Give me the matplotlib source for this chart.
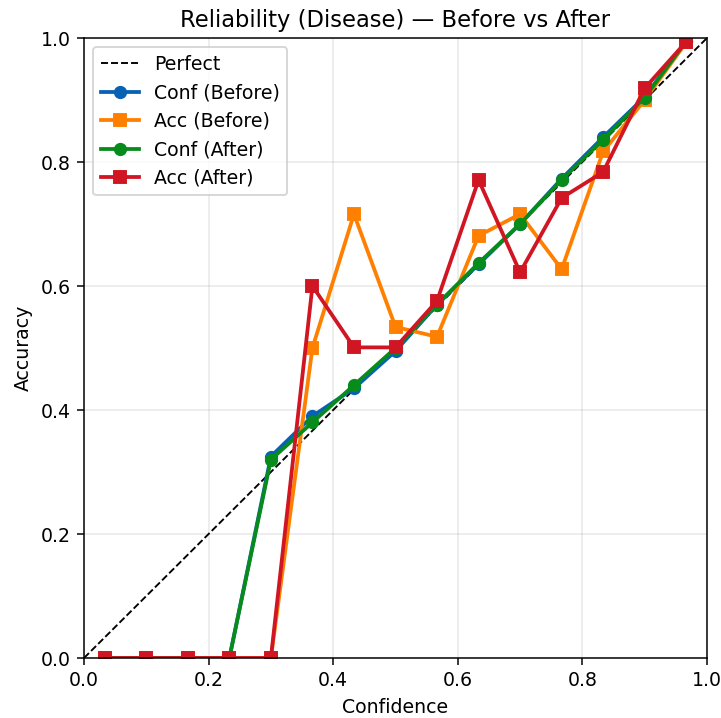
import numpy as np
from matplotlib import pyplot as plt

# 15 equal-width confidence bins, values read per bin centre
n_bins = 15
bin_centers = (np.arange(n_bins) + 0.5) / n_bins

conf_before = [0, 0, 0, 0, 0.325, 0.390, 0.435, 0.495, 0.570, 0.635, 0.700, 0.773, 0.840, 0.905, 0.995]
acc_before = [0, 0, 0, 0, 0, 0.500, 0.716, 0.534, 0.518, 0.681, 0.716, 0.627, 0.817, 0.900, 0.993]
conf_after = [0, 0, 0, 0, 0.320, 0.380, 0.440, 0.500, 0.570, 0.637, 0.700, 0.771, 0.836, 0.904, 0.995]
acc_after = [0, 0, 0, 0, 0, 0.600, 0.501, 0.501, 0.576, 0.771, 0.622, 0.742, 0.784, 0.919, 0.994]

DPI = 136
fig = plt.figure(figsize=(721 / DPI, 718 / DPI), dpi=DPI)
ax = fig.add_axes([84 / 721, 60 / 718, 623 / 721, 620 / 718])

ax.plot([0, 1], [0, 1], 'k--', lw=1, label='Perfect')
ax.plot(bin_centers, conf_before, marker='o', lw=2, color='#0762b3', label='Conf (Before)')
ax.plot(bin_centers, acc_before, marker='s', lw=2, color='#ff8000', label='Acc (Before)')
ax.plot(bin_centers, conf_after, marker='o', lw=2, color='#078c1c', label='Conf (After)')
ax.plot(bin_centers, acc_after, marker='s', lw=2, color='#d01523', label='Acc (After)')

ax.set_xlim(0, 1)
ax.set_ylim(0, 1)
ax.set_xlabel('Confidence')
ax.set_ylabel('Accuracy')
ax.set_title('Reliability (Disease) — Before vs After')
ax.grid(True, alpha=0.3)
ax.legend(loc='upper left')

fig.savefig('out.png', dpi=DPI)
